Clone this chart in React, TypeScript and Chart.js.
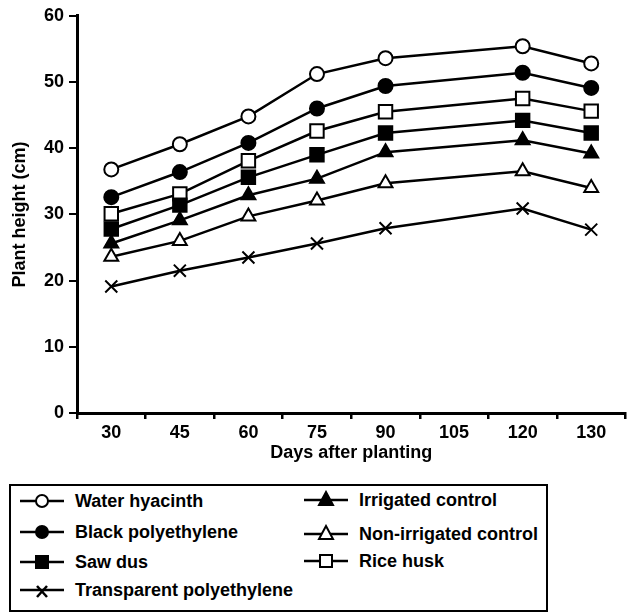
import React, { useEffect, useRef } from "react";
import { Chart, registerables } from "chart.js";

Chart.register(...registerables);

const days = ["30", "45", "60", "75", "90", "105", "120", "130"];
const waterHyacinth = [36.8, 40.6, 44.8, 51.2, 53.6, null, 55.4, 52.8];
const blackPoly = [32.6, 36.4, 40.8, 46.0, 49.4, null, 51.4, 49.1];
const riceHusk = [30.1, 33.1, 38.1, 42.6, 45.5, null, 47.5, 45.6];
const sawDus = [27.8, 31.4, 35.6, 39.0, 42.3, null, 44.2, 42.3];
const irrigated = [25.6, 29.1, 32.9, 35.4, 39.4, null, 41.2, 39.2];
const nonIrrigated = [23.6, 26.0, 29.7, 32.1, 34.7, null, 36.5, 34.0];
const transparentPoly = [19.1, 21.5, 23.5, 25.6, 27.9, null, 30.9, 27.7];

const FONT = "'Liberation Sans', Arial, Helvetica, sans-serif";

function ds(label: string, data: (number | null)[], style: string, filled: boolean, radius: number) {
  return {
    label,
    data,
    borderColor: "#000",
    borderWidth: 2.5,
    pointStyle: style,
    pointRadius: radius,
    pointHoverRadius: radius,
    pointBorderWidth: 2,
    pointBorderColor: "#000",
    pointBackgroundColor: filled ? "#000" : "#fff",
    spanGaps: true,
    tension: 0,
  };
}

type LegendItem = { label: string; shape: string; x: number; y: number };
const legendItems: LegendItem[] = [
  { label: "Water hyacinth", shape: "openCircle", x: 20, y: 501 },
  { label: "Black polyethylene", shape: "filledCircle", x: 20, y: 532 },
  { label: "Saw dus", shape: "filledSquare", x: 20, y: 562 },
  { label: "Transparent polyethylene", shape: "cross", x: 20, y: 590 },
  { label: "Irrigated control", shape: "filledTriangle", x: 304, y: 500 },
  { label: "Non-irrigated control", shape: "openTriangle", x: 304, y: 534 },
  { label: "Rice husk", shape: "openSquare", x: 304, y: 561 },
];

function Marker({ shape }: { shape: string }) {
  const cx = 22, cy = 10;
  let m: React.ReactNode = null;
  if (shape === "openCircle" || shape === "filledCircle") {
    m = <circle cx={cx} cy={cy} r={6} fill={shape === "openCircle" ? "#fff" : "#000"} stroke="#000" strokeWidth={2} />;
  } else if (shape === "openSquare" || shape === "filledSquare") {
    m = <rect x={cx - 6} y={cy - 6} width={12} height={12} fill={shape === "openSquare" ? "#fff" : "#000"} stroke="#000" strokeWidth={2} />;
  } else if (shape === "openTriangle" || shape === "filledTriangle") {
    m = <polygon points={`${cx},${cy - 8} ${cx + 7},${cy + 5} ${cx - 7},${cy + 5}`} fill={shape === "openTriangle" ? "#fff" : "#000"} stroke="#000" strokeWidth={2} />;
  } else {
    m = (
      <g stroke="#000" strokeWidth={2.5}>
        <line x1={cx - 5} y1={cy - 4} x2={cx + 5} y2={cy + 7} />
        <line x1={cx + 5} y1={cy - 4} x2={cx - 5} y2={cy + 7} />
      </g>
    );
  }
  return (
    <svg width={44} height={20} style={{ display: "block" }}>
      <line x1={0} y1={cy} x2={44} y2={cy} stroke="#000" strokeWidth={2.5} />
      {m}
    </svg>
  );
}

export default function App() {
  const ref = useRef<HTMLCanvasElement | null>(null);
  useEffect(() => {
    if (!ref.current) return;
    const chart = new Chart(ref.current, {
      type: "line",
      data: {
        labels: days,
        datasets: [
          ds("Transparent polyethylene", transparentPoly, "crossRot", true, 8.5),
          ds("Non-irrigated control", nonIrrigated, "triangle", false, 8),
          ds("Irrigated control", irrigated, "triangle", true, 8),
          ds("Saw dus", sawDus, "rect", true, 9.5),
          ds("Rice husk", riceHusk, "rect", false, 9.5),
          ds("Black polyethylene", blackPoly, "circle", true, 7),
          ds("Water hyacinth", waterHyacinth, "circle", false, 7),
        ] as any,
      },
      options: {
        animation: false,
        responsive: false,
        maintainAspectRatio: false,
        events: [],
        layout: { padding: { top: 15, left: 0, right: 0, bottom: 0 } },
        plugins: { legend: { display: false }, tooltip: { enabled: false } },
        scales: {
          x: {
            type: "category",
            offset: true,
            grid: { offset: true, drawOnChartArea: false, drawTicks: true, tickLength: 6, color: "#000", lineWidth: 2.5 },
            border: { display: true, color: "#000", width: 3 },
            ticks: { color: "#000", font: { family: FONT, size: 18, weight: "bold" }, padding: 3, maxRotation: 0, autoSkip: false },
            title: { display: true, text: "Days after planting", color: "#000", font: { family: FONT, size: 18, weight: "bold" }, padding: { top: 0, bottom: 6 } },
            afterFit: (s: any) => { s.height = 57; },
          },
          y: {
            min: 0,
            max: 60,
            grid: { drawOnChartArea: false, drawTicks: true, tickLength: 8, color: "#000", lineWidth: 2 },
            border: { display: true, color: "#000", width: 3 },
            ticks: { stepSize: 10, color: "#000", font: { family: FONT, size: 18, weight: "bold" }, padding: 5 },
            title: { display: true, text: "Plant height (cm)", color: "#000", font: { family: FONT, size: 18, weight: "bold" }, padding: { top: 9, bottom: 0 } },
            afterFit: (s: any) => { s.width = 77; },
          },
        },
      } as any,
    });
    return () => chart.destroy();
  }, []);

  return (
    <div style={{ position: "absolute", left: 0, top: 0, width: 630, height: 613, background: "#fff", overflow: "hidden" }}>
      <canvas ref={ref} width={637} height={470} style={{ position: "absolute", left: 0, top: 0, width: 637, height: 470 }} />
      <div style={{ position: "absolute", left: 9, top: 484, width: 535, height: 124, border: "2.5px solid #000" }} />
      {legendItems.map((it) => (
        <div key={it.label} style={{ position: "absolute", left: it.x, top: it.y - 10, height: 20, display: "flex", alignItems: "center" }}>
          <Marker shape={it.shape} />
          <span style={{ marginLeft: 11, fontFamily: FONT, fontWeight: "bold", fontSize: 18, color: "#000", lineHeight: "20px", whiteSpace: "nowrap" }}>{it.label}</span>
        </div>
      ))}
    </div>
  );
}
